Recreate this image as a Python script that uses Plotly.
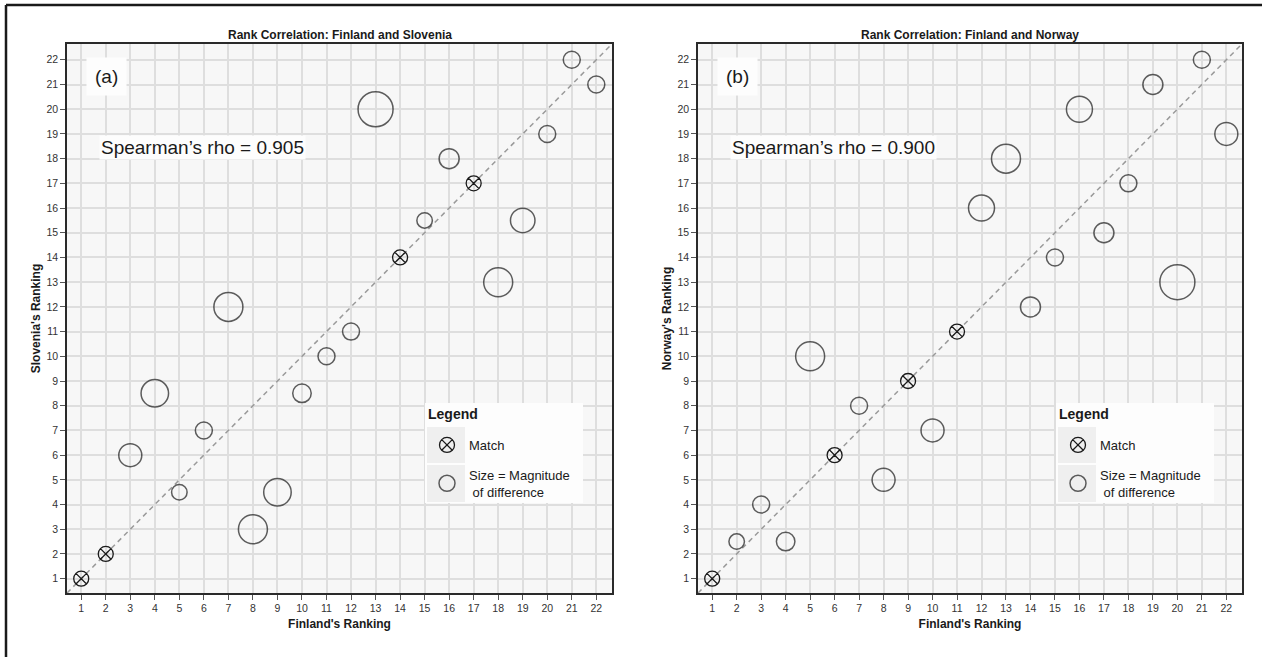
import plotly.graph_objects as go

# ---- data -------------------------------------------------------------
finland_rank = [1, 2, 3, 4, 5, 6, 7, 8, 9, 10, 11,
                12, 13, 14, 15, 16, 17, 18, 19, 20, 21, 22]
slovenia_rank = [1, 2, 6, 8.5, 4.5, 7, 12, 3, 4.5, 8.5, 10,
                 11, 20, 14, 15.5, 18, 17, 13, 15.5, 19, 22, 21]
norway_rank = [1, 2.5, 4, 2.5, 10, 6, 8, 5, 9, 7, 11,
               16, 18, 12, 14, 20, 15, 17, 21, 13, 22, 19]

panel_titles = ["Rank Correlation: Finland and Slovenia",
                "Rank Correlation: Finland and Norway"]
x_title = "Finland's Ranking"
y_titles = ["Slovenia's Ranking", "Norway's Ranking"]
panel_tags = ["(a)", "(b)"]
rho_values = [0.905, 0.900]
tick_values = [1, 2, 3, 4, 5, 6, 7, 8, 9, 10, 11,
               12, 13, 14, 15, 16, 17, 18, 19, 20, 21, 22]
legend_heading = "Legend"
legend_labels = ["Match", "Size = Magnitude<br> of difference"]

# ---- page geometry (pixels) ------------------------------------------
W, H = 1262, 657
PLOT_TOP, PLOT_BOTTOM = 44, 593
PANEL_X = [(67, 612), (698, 1242)]
AX_RANGE = [0.42, 22.64]
FONT = "Liberation Sans, Arial, Helvetica, sans-serif"
INK = "#1a1a1a"
PLOT_BG = "#f7f7f7"
PANEL_BG = "#fdfdfd"
LEGEND_DX = 358          # legend box offset from the plot's left edge


def fx(p):
    return p / W


def fy(p):
    return 1 - p / H


fig = go.Figure()
shapes = []
annotations = []

for i, other in enumerate([slovenia_rank, norway_rank]):
    xa = "x" if i == 0 else "x2"
    ya = "y" if i == 0 else "y2"
    leg = "legend" if i == 0 else "legend2"

    # y = x reference line across the full axis range
    fig.add_trace(go.Scatter(
        x=AX_RANGE, y=AX_RANGE, mode="lines", xaxis=xa, yaxis=ya,
        line=dict(color="#9a9a9a", width=1.5, dash="5px,4px"),
        showlegend=False, hoverinfo="skip"))

    same_x = [a for a, b in zip(finland_rank, other) if a == b]
    same_y = [b for a, b in zip(finland_rank, other) if a == b]
    diff_x = [a for a, b in zip(finland_rank, other) if a != b]
    diff_y = [b for a, b in zip(finland_rank, other) if a != b]
    diff_size = [14 + 3 * abs(b - a) for a, b in zip(diff_x, diff_y)]

    fig.add_trace(go.Scatter(
        x=same_x, y=same_y, mode="markers", xaxis=xa, yaxis=ya,
        name=legend_labels[0], legend=leg, legendgroup=f"m{i}",
        marker=dict(symbol="circle-x-open", size=15, color=INK,
                    line=dict(width=1.3, color=INK))))
    fig.add_trace(go.Scatter(
        x=diff_x, y=diff_y, mode="markers", xaxis=xa, yaxis=ya,
        name=legend_labels[1], legend=leg, legendgroup=f"d{i}",
        marker=dict(symbol="circle-open", size=diff_size, color=INK,
                    line=dict(width=1.5, color=INK))))

    x0, x1 = PANEL_X[i]
    # panel title
    annotations.append(dict(
        text=f"<b>{panel_titles[i]}</b>", xref="paper", yref="paper",
        x=fx((x0 + x1) / 2), y=fy(35), xanchor="center", yanchor="middle",
        showarrow=False, font=dict(family=FONT, size=12, color=INK)))
    # panel tag
    annotations.append(dict(
        text=panel_tags[i], xref=xa, yref=ya, x=2.05, y=21.33,
        xanchor="center", yanchor="middle", showarrow=False,
        bgcolor=PANEL_BG, borderpad=8,
        font=dict(family=FONT, size=19, color=INK)))
    # correlation statement
    annotations.append(dict(
        text=f"Spearman\u2019s rho = {rho_values[i]:.3f}", xref=xa, yref=ya,
        x=1.74, y=18.46, xanchor="left", yanchor="middle", showarrow=False,
        bgcolor=PANEL_BG, borderpad=1,
        font=dict(family=FONT, size=19, color=INK)))

    # legend panel, heading and symbol wells
    lx0 = x0 + LEGEND_DX
    shapes.append(dict(type="rect", xref="paper", yref="paper",
                       x0=fx(lx0), x1=fx(lx0 + 158), y0=fy(503), y1=fy(403),
                       fillcolor=PANEL_BG, line=dict(width=0), layer="above"))
    for top, bot in [(427, 463), (465, 502)]:
        shapes.append(dict(type="rect", xref="paper", yref="paper",
                           x0=fx(lx0 + 2), x1=fx(lx0 + 40), y0=fy(bot), y1=fy(top),
                           fillcolor="#efefef", line=dict(width=0), layer="above"))
    annotations.append(dict(
        text=f"<b>{legend_heading}</b>", xref="paper", yref="paper",
        x=fx(lx0 + 1), y=fy(414), xanchor="left", yanchor="middle",
        showarrow=False, font=dict(family=FONT, size=14, color=INK)))

# outer frame (left and top edges)
shapes.append(dict(type="line", xref="paper", yref="paper",
                   x0=fx(6), x1=fx(6), y0=0, y1=fy(5),
                   line=dict(color=INK, width=2.5)))
shapes.append(dict(type="line", xref="paper", yref="paper",
                   x0=fx(6), x1=1, y0=fy(5), y1=fy(5),
                   line=dict(color=INK, width=2.5)))

axis_common = dict(
    range=AX_RANGE, tickmode="array", tickvals=tick_values,
    ticks="outside", ticklen=5, tickwidth=1, tickcolor="#555",
    showgrid=True, gridcolor="#dedede", gridwidth=1.5,
    showline=True, linecolor="#2a2a2a", linewidth=1.5, mirror=True,
    zeroline=False, automargin=False,
    tickfont=dict(family=FONT, size=10.5, color="#333"))

y_dom = [fy(PLOT_BOTTOM), fy(PLOT_TOP)]
layout_axes = {}
for i in range(2):
    x0, x1 = PANEL_X[i]
    sx = "" if i == 0 else "2"
    layout_axes[f"xaxis{sx}"] = dict(
        axis_common, domain=[fx(x0), fx(x1)], anchor=f"y{sx}",
        title=dict(text=f"<b>{x_title}</b>", standoff=6,
                   font=dict(family=FONT, size=12, color=INK)))
    layout_axes[f"yaxis{sx}"] = dict(
        axis_common, domain=y_dom, anchor=f"x{sx}",
        title=dict(text=f"<b>{y_titles[i]}</b>", standoff=3,
                   font=dict(family=FONT, size=12, color=INK)))

legend_common = dict(
    xanchor="left", yanchor="top", bgcolor="rgba(0,0,0,0)",
    font=dict(family=FONT, size=13, color=INK),
    tracegroupgap=10, itemsizing="trace", itemwidth=34, valign="middle")

fig.update_layout(
    width=W, height=H, autosize=False,
    margin=dict(l=0, r=0, t=0, b=0),
    paper_bgcolor="white", plot_bgcolor=PLOT_BG,
    font=dict(family=FONT, color=INK),
    showlegend=True,
    legend=dict(legend_common, x=fx(PANEL_X[0][0] + LEGEND_DX), y=fy(430)),
    legend2=dict(legend_common, x=fx(PANEL_X[1][0] + LEGEND_DX), y=fy(430)),
    shapes=shapes, annotations=annotations,
    **layout_axes)

fig.write_html("out.html")
